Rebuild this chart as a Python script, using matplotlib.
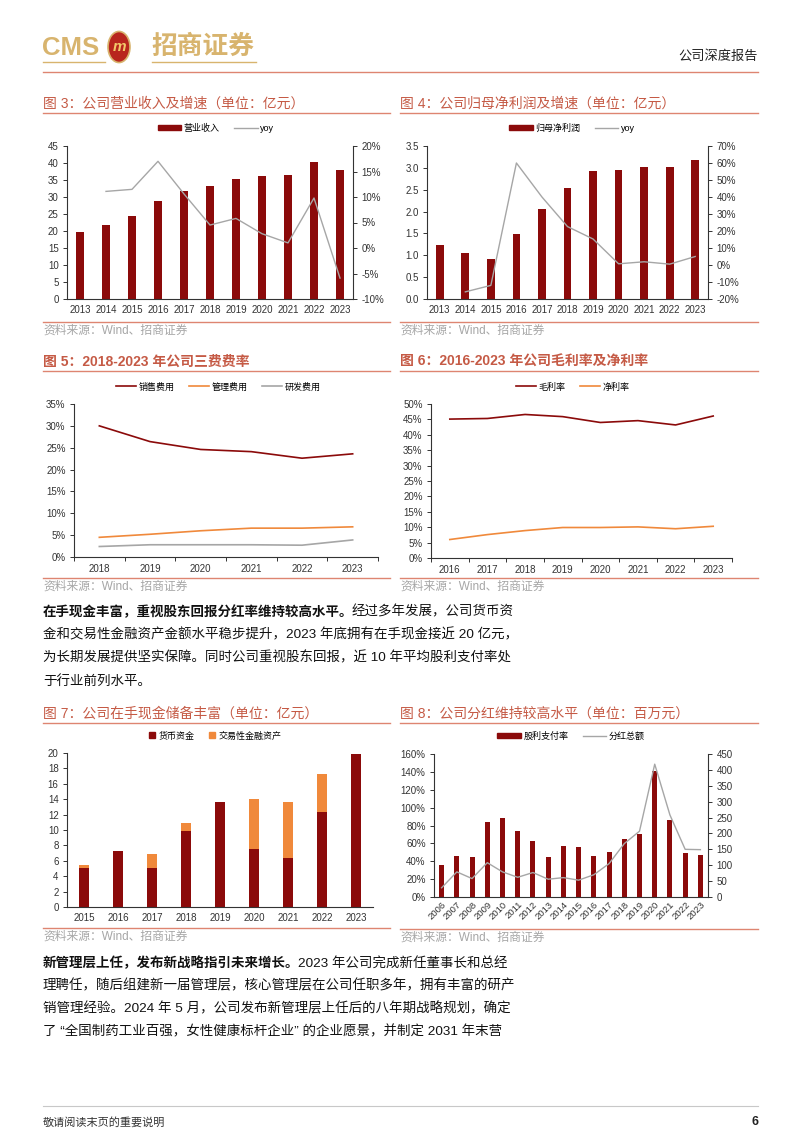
import matplotlib
matplotlib.use('Agg')
import matplotlib.pyplot as plt
import numpy as np
from matplotlib.patches import Patch, Circle
from matplotlib.lines import Line2D
from matplotlib.ticker import FuncFormatter

plt.rcParams['font.family'] = ['Liberation Sans', 'Noto Sans CJK SC', 'DejaVu Sans']
plt.rcParams['axes.linewidth'] = 0.8

# ---------------- data ----------------
years_13_23 = ['2013', '2014', '2015', '2016', '2017', '2018', '2019', '2020', '2021', '2022', '2023']
revenue = [19.7, 21.8, 24.3, 28.7, 31.7, 33.2, 35.2, 36.3, 36.6, 40.2, 38.0]
revenue_yoy = [np.nan, 11.1, 11.5, 17.0, 10.6, 4.5, 5.8, 2.8, 1.0, 9.8, -5.9]
net_profit = [1.24, 1.05, 0.92, 1.48, 2.07, 2.55, 2.93, 2.96, 3.01, 3.03, 3.19]
profit_yoy = [np.nan, -15.8, -12.0, 60.0, 40.0, 22.6, 15.3, 0.7, 1.9, 0.5, 5.0]

years_18_23 = ['2018', '2019', '2020', '2021', '2022', '2023']
sales_exp = [30.0, 26.4, 24.6, 24.1, 22.6, 23.6]
admin_exp = [4.5, 5.2, 6.0, 6.6, 6.6, 6.9]
rd_exp = [2.4, 2.8, 2.8, 2.8, 2.7, 3.9]

years_16_23 = ['2016', '2017', '2018', '2019', '2020', '2021', '2022', '2023']
gross_margin = [45.1, 45.3, 46.6, 45.9, 44.0, 44.6, 43.2, 46.1]
net_margin = [6.0, 7.6, 8.9, 9.9, 9.9, 10.1, 9.5, 10.3]

years_15_23 = ['2015', '2016', '2017', '2018', '2019', '2020', '2021', '2022', '2023']
cash = [5.1, 7.3, 5.1, 9.9, 13.7, 7.5, 6.35, 12.35, 19.9]
fin_assets = [0.35, 0.0, 1.75, 1.05, 0.0, 6.5, 7.35, 4.95, 0.0]

years_06_23 = ['2006', '2007', '2008', '2009', '2010', '2011', '2012', '2013', '2014',
               '2015', '2016', '2017', '2018', '2019', '2020', '2021', '2022', '2023']
payout = [35.5, 46.0, 44.5, 83.4, 88.6, 73.3, 63.2, 44.5, 57.6,
          56.1, 46.4, 50.1, 65.4, 71.0, 140.9, 85.6, 49.7, 47.1]
div_total = [29, 79, 58, 108, 79, 62, 77, 56, 61, 53, 70, 105, 168, 207, 418, 258, 150, 149]

# ---------------- style ----------------
W, H = 802, 1133
fig = plt.figure(figsize=(W / 100, H / 100), dpi=100)

DARK = '#8B0A0A'
ORANGE = '#F0893B'
GRAY = '#A6A6A6'
TITLE = '#C55A45'
RULE = '#DE8571'
SRC = '#A6A6A6'
GOLD = '#D8B46E'
AXC = '#333333'
TICKFS = 7
pct = FuncFormatter(lambda v, p: f'{v:.0f}%')


def ax_px(x0, y0, x1, y1):
    return fig.add_axes([x0 / W, 1 - y1 / H, (x1 - x0) / W, (y1 - y0) / H])


def ftext(x, y, s, **kw):
    return fig.text(x / W, 1 - y / H, s, **kw)


def hline(x0, x1, y, color, lw):
    fig.add_artist(Line2D([x0 / W, x1 / W], [1 - y / H, 1 - y / H], color=color, lw=lw))


def style(ax, right=None):
    for s in ['top', 'right']:
        ax.spines[s].set_visible(False)
    for s in ['left', 'bottom']:
        ax.spines[s].set_color(AXC)
    ax.tick_params(axis='both', labelsize=TICKFS, colors=AXC, length=3, width=0.7, pad=3)
    ax.tick_params(axis='x', length=0, pad=4)
    if right is not None:
        for s in ['top', 'left', 'bottom']:
            right.spines[s].set_visible(False)
        right.spines['right'].set_color(AXC)
        right.tick_params(axis='y', labelsize=TICKFS, colors=AXC, length=3, width=0.7, pad=3)


def legend(handles, labels, cx, cy, **kw):
    fig.legend(handles, labels, loc='center', bbox_to_anchor=(cx / W, 1 - cy / H),
               ncol=len(labels), frameon=False, fontsize=6.5, handletextpad=0.3,
               columnspacing=1.6, borderaxespad=0, **kw)


def title(x, y, s, x1, bold=False):
    ftext(x, y, s, fontsize=10, color=TITLE, va='center',
          fontweight='bold' if bold else 'normal')
    hline(x, x1, y + 9, RULE, 1.0)


def source(x, x1, y):
    hline(x, x1, y, RULE, 1.0)
    ftext(x, y + 9, '资料来源：Wind、招商证券', fontsize=8.5, color=SRC, va='center')


# ---------------- header ----------------
ftext(42, 48, 'CMS', fontsize=18.5, fontweight='bold', color=GOLD, va='center')
circ = Circle((119 / W, 1 - 47 / H), 11 / W, transform=fig.transFigure,
              facecolor='#B8261E', edgecolor=GOLD, lw=1.2)
fig.add_artist(circ)
ftext(119, 47, 'm', fontsize=11, fontweight='bold', style='italic', color='#F2C96A',
      ha='center', va='center')
ftext(151, 47, '招商证券', fontsize=18.5, color=GOLD, va='center', fontweight='bold')
hline(43, 105, 62, GOLD, 1.0)
hline(152, 256, 62, GOLD, 1.0)
ftext(758, 56, '公司深度报告', fontsize=9.5, color='#222222', ha='right', va='center')
hline(43, 758, 72, RULE, 1.0)

# ---------------- Figure 3 ----------------
title(43, 104, '图 3：公司营业收入及增速（单位：亿元）', 390)
ax = ax_px(67, 146, 353, 299)
x = np.arange(len(years_13_23))
ax.bar(x, revenue, width=0.3, color=DARK)
ax.set_xlim(-0.5, len(x) - 0.5)
ax.set_ylim(0, 45)
ax.set_yticks(range(0, 46, 5))
ax.set_xticks(x)
ax.set_xticklabels(years_13_23)
ax2 = ax.twinx()
ax2.plot(x, revenue_yoy, color=GRAY, lw=1)
ax2.set_ylim(-10, 20)
ax2.set_yticks(range(-10, 21, 5))
ax2.yaxis.set_major_formatter(pct)
style(ax, ax2)
legend([Patch(color=DARK), Line2D([], [], color=GRAY, lw=1)], ['营业收入', 'yoy'], 216, 128,
       handlelength=2.6, handleheight=0.6)
source(43, 390, 322)

# ---------------- Figure 4 ----------------
title(400, 104, '图 4：公司归母净利润及增速（单位：亿元）', 758)
ax = ax_px(427, 146, 708, 299)
ax.bar(x, net_profit, width=0.3, color=DARK)
ax.set_xlim(-0.5, len(x) - 0.5)
ax.set_ylim(0, 3.5)
ax.set_yticks(np.arange(0, 3.51, 0.5))
ax.yaxis.set_major_formatter(FuncFormatter(lambda v, p: f'{v:.1f}'))
ax.set_xticks(x)
ax.set_xticklabels(years_13_23)
ax2 = ax.twinx()
ax2.plot(x, profit_yoy, color=GRAY, lw=1)
ax2.set_ylim(-20, 70)
ax2.set_yticks(range(-20, 71, 10))
ax2.yaxis.set_major_formatter(pct)
style(ax, ax2)
legend([Patch(color=DARK), Line2D([], [], color=GRAY, lw=1)], ['归母净利润', 'yoy'], 572, 128,
       handlelength=2.6, handleheight=0.6)
source(400, 758, 322)


# ---------------- Figure 5 ----------------
def boundary_xaxis(ax, labels):
    n = len(labels)
    ax.set_xlim(-0.5, n - 0.5)
    ax.set_xticks(np.arange(-0.5, n, 1))
    ax.set_xticklabels([''] * (n + 1))
    ax.set_xticks(np.arange(n), minor=True)
    ax.set_xticklabels(labels, minor=True)
    ax.tick_params(axis='x', which='major', length=3, width=0.7, colors=AXC)
    ax.tick_params(axis='x', which='minor', length=0, labelsize=TICKFS, pad=5, colors=AXC)


title(43, 362, '图 5：2018-2023 年公司三费费率', 390, bold=True)
ax = ax_px(74, 404, 378, 557)
x = np.arange(len(years_18_23))
ax.plot(x, sales_exp, color=DARK, lw=1.2, label='销售费用')
ax.plot(x, admin_exp, color=ORANGE, lw=1.2, label='管理费用')
ax.plot(x, rd_exp, color=GRAY, lw=1.2, label='研发费用')
ax.set_ylim(0, 35)
ax.set_yticks(range(0, 36, 5))
ax.yaxis.set_major_formatter(pct)
style(ax)
boundary_xaxis(ax, years_18_23)
h, l = ax.get_legend_handles_labels()
legend(h, l, 218, 387, handlelength=2.2)
source(43, 390, 578)

# ---------------- Figure 6 ----------------
title(400, 362, '图 6：2016-2023 年公司毛利率及净利率', 758, bold=True)
ax = ax_px(431, 404, 732, 558)
x = np.arange(len(years_16_23))
ax.plot(x, gross_margin, color=DARK, lw=1.2, label='毛利率')
ax.plot(x, net_margin, color=ORANGE, lw=1.2, label='净利率')
ax.set_ylim(0, 50)
ax.set_yticks(range(0, 51, 5))
ax.yaxis.set_major_formatter(pct)
style(ax)
boundary_xaxis(ax, years_16_23)
h, l = ax.get_legend_handles_labels()
legend(h, l, 573, 387, handlelength=2.2)
source(400, 758, 578)

# ---------------- Body paragraph 1 ----------------
BODYFS = 9.7
fig.canvas.draw()
renderer = fig.canvas.get_renderer()


def para(lines, y0, bold_first):
    for i, line in enumerate(lines):
        y = y0 + i * 23
        if i == 0:
            t = ftext(43, y, bold_first, fontsize=BODYFS, fontweight='bold', color='#111111', va='center')
            bb = t.get_window_extent(renderer=renderer)
            ftext(bb.x1 - 2, y, line, fontsize=BODYFS, color='#111111', va='center')
        else:
            ftext(43, y, line, fontsize=BODYFS, color='#111111', va='center')


para(['经过多年发展，公司货币资',
      '金和交易性金融资产金额水平稳步提升，2023 年底拥有在手现金接近 20 亿元，',
      '为长期发展提供坚实保障。同时公司重视股东回报，近 10 年平均股利支付率处',
      '于行业前列水平。'], 612, '在手现金丰富，重视股东回报分红率维持较高水平。')

# ---------------- Figure 7 ----------------
title(43, 714, '图 7：公司在手现金储备丰富（单位：亿元）', 390)
ax = ax_px(67, 753, 373, 907)
x = np.arange(len(years_15_23))
ax.bar(x, cash, width=0.3, color=DARK, label='货币资金')
ax.bar(x, fin_assets, width=0.3, bottom=cash, color=ORANGE, label='交易性金融资产')
ax.set_xlim(-0.5, len(x) - 0.5)
ax.set_ylim(0, 20)
ax.set_yticks(range(0, 21, 2))
ax.set_xticks(x)
ax.set_xticklabels(years_15_23)
style(ax)
legend([Line2D([], [], marker='s', ms=4, ls='none', color=DARK),
        Line2D([], [], marker='s', ms=4, ls='none', color=ORANGE)],
       ['货币资金', '交易性金融资产'], 215, 736, handlelength=0.8)
source(43, 390, 928)

# ---------------- Figure 8 ----------------
title(400, 714, '图 8：公司分红维持较高水平（单位：百万元）', 758)
ax = ax_px(434, 754, 708, 897)
x = np.arange(len(years_06_23))
ax.bar(x, payout, width=0.33, color=DARK)
ax.set_xlim(-0.5, len(x) - 0.5)
ax.set_ylim(0, 160)
ax.set_yticks(range(0, 161, 20))
ax.yaxis.set_major_formatter(pct)
ax.set_xticks(x)
ax.set_xticklabels(years_06_23, rotation=45, ha='right', rotation_mode='anchor')
ax2 = ax.twinx()
ax2.plot(x, div_total, color=GRAY, lw=1)
ax2.set_ylim(0, 450)
ax2.set_yticks(range(0, 451, 50))
style(ax, ax2)
ax.tick_params(axis='x', labelsize=6.8, pad=2)
legend([Patch(color=DARK), Line2D([], [], color=GRAY, lw=1)], ['股利支付率', '分红总额'], 571, 736,
       handlelength=2.6, handleheight=0.6)
source(400, 758, 929)

# ---------------- Body paragraph 2 ----------------
para(['2023 年公司完成新任董事长和总经',
      '理聘任，随后组建新一届管理层，核心管理层在公司任职多年，拥有丰富的研产',
      '销管理经验。2024 年 5 月，公司发布新管理层上任后的八年期战略规划，确定',
      '了 “全国制药工业百强，女性健康标杆企业” 的企业愿景，并制定 2031 年末营'],
     963, '新管理层上任，发布新战略指引未来增长。')

# ---------------- footer ----------------
hline(43, 758, 1106, '#C8C8C8', 0.8)
ftext(43, 1122, '敬请阅读末页的重要说明', fontsize=8, color='#333333', va='center')
ftext(758, 1122, '6', fontsize=9, fontweight='bold', color='#222222', ha='right', va='center')

fig.savefig('out.png', dpi=100, facecolor='white')
